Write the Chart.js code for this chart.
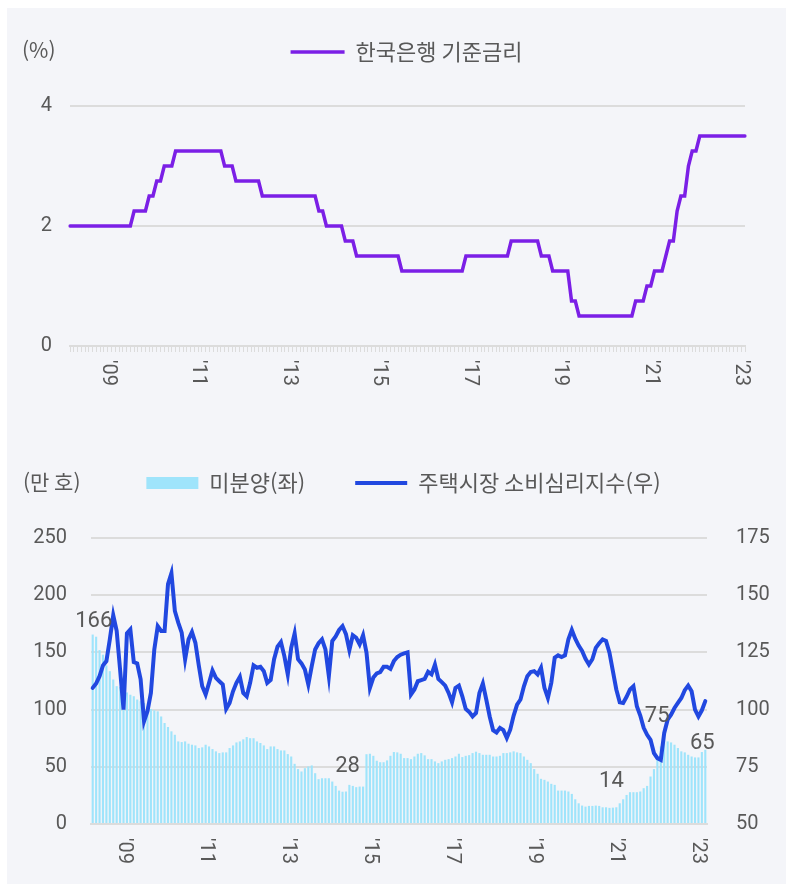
<!DOCTYPE html>
<html lang="ko">
<head>
<meta charset="utf-8">
<title>기준금리 · 미분양 · 주택시장 소비심리지수</title>
<script src="https://cdn.jsdelivr.net/npm/chart.js@4.4.1/dist/chart.umd.min.js"></script>
<style>
  html, body { margin: 0; padding: 0; background: #ffffff; }
  #panel { position: absolute; left: 7px; top: 8px; width: 779px; height: 876px; background: #f4f5f9; }
  canvas { position: absolute; }
  #rateChart { left: 7px; top: 8px; }
  #housingChart { left: 7px; top: 422px; }
</style>
</head>
<body>
<div id="panel"></div>
<canvas id="rateChart" width="779" height="422"></canvas>
<canvas id="housingChart" width="779" height="462"></canvas>
<script>
// month categories
function monthRange(y, m, n) {
  const out = [];
  for (let k = 0; k < n; k++) {
    out.push(y + '.' + String(m).padStart(2, '0'));
    m++;
    if (m > 12) { m = 1; y++; }
  }
  return out;
}
const rateMonths = monthRange(2009, 2, 180);     // 2009.02 ~ 2024.01
const housingMonths = monthRange(2009, 3, 180);  // 2009.03 ~ 2024.02

// tick labels (placed at December of each odd year)
const tickLabels = ["'09", "'11", "'13", "'15", "'17", "'19", "'21", "'23"];
const tickMonths = ['2009.12', '2011.12', '2013.12', '2015.12', '2017.12', '2019.12', '2021.12', '2023.12'];

// 한국은행 기준금리 (%)
const baseRate = [
  2.00, 2.00, 2.00, 2.00, 2.00, 2.00, 2.00, 2.00, 2.00, 2.00, 2.00,
  2.00, 2.00, 2.00, 2.00, 2.00, 2.00, 2.25, 2.25, 2.25, 2.25, 2.50, 2.50,
  2.75, 2.75, 3.00, 3.00, 3.00, 3.25, 3.25, 3.25, 3.25, 3.25, 3.25, 3.25,
  3.25, 3.25, 3.25, 3.25, 3.25, 3.25, 3.00, 3.00, 3.00, 2.75, 2.75, 2.75,
  2.75, 2.75, 2.75, 2.75, 2.50, 2.50, 2.50, 2.50, 2.50, 2.50, 2.50, 2.50,
  2.50, 2.50, 2.50, 2.50, 2.50, 2.50, 2.50, 2.25, 2.25, 2.00, 2.00, 2.00,
  2.00, 2.00, 1.75, 1.75, 1.75, 1.50, 1.50, 1.50, 1.50, 1.50, 1.50, 1.50,
  1.50, 1.50, 1.50, 1.50, 1.50, 1.25, 1.25, 1.25, 1.25, 1.25, 1.25, 1.25,
  1.25, 1.25, 1.25, 1.25, 1.25, 1.25, 1.25, 1.25, 1.25, 1.25, 1.50, 1.50,
  1.50, 1.50, 1.50, 1.50, 1.50, 1.50, 1.50, 1.50, 1.50, 1.50, 1.75, 1.75,
  1.75, 1.75, 1.75, 1.75, 1.75, 1.75, 1.50, 1.50, 1.50, 1.25, 1.25, 1.25,
  1.25, 1.25, 0.75, 0.75, 0.50, 0.50, 0.50, 0.50, 0.50, 0.50, 0.50, 0.50,
  0.50, 0.50, 0.50, 0.50, 0.50, 0.50, 0.50, 0.75, 0.75, 0.75, 1.00, 1.00,
  1.25, 1.25, 1.25, 1.50, 1.75, 1.75, 2.25, 2.50, 2.50, 3.00, 3.25, 3.25,
  3.50, 3.50, 3.50, 3.50, 3.50, 3.50, 3.50, 3.50, 3.50, 3.50, 3.50, 3.50,
  3.50
];

// 미분양 (좌축)
const unsold = [
  165.6, 163.7, 152.0, 148.0, 138.6, 133.6, 126.3, 120.5, 119.9, 116.0,
  115.0, 113.0, 111.7, 108.8, 107.3, 105.8, 103.0, 100.6, 99.4, 98.5,
  94.0, 88.3, 84.8, 81.0, 78.0, 72.2, 71.6, 72.2, 70.2, 69.3,
  68.7, 66.4, 67.0, 69.3, 67.8, 65.5, 63.5, 62.0, 62.6, 62.6,
  66.4, 68.7, 71.3, 72.2, 74.0, 76.0, 75.0, 75.0, 72.2, 70.8,
  68.7, 65.5, 67.8, 67.8, 65.5, 64.3, 64.3, 61.1, 59.0, 52.6,
  48.0, 45.9, 48.8, 50.3, 51.2, 44.4, 39.2, 40.0, 40.0, 40.0,
  37.1, 33.3, 29.2, 28.2, 28.4, 34.2, 33.3, 32.2, 32.7, 32.7,
  61.0, 61.4, 59.6, 55.3, 54.0, 54.0, 55.6, 59.6, 62.9, 62.6,
  61.4, 57.6, 57.6, 56.7, 59.0, 61.4, 62.0, 60.0, 56.7, 56.7,
  54.7, 53.2, 54.7, 56.1, 56.7, 57.6, 59.0, 61.4, 58.5, 59.6,
  60.2, 62.0, 63.2, 62.0, 60.5, 60.5, 60.5, 59.0, 59.0, 59.6,
  62.0, 62.0, 62.6, 63.5, 62.6, 62.0, 59.0, 56.1, 53.2, 48.0,
  43.9, 39.5, 38.6, 37.1, 35.1, 34.2, 29.2, 29.2, 29.2, 28.4,
  26.3, 21.6, 18.1, 16.1, 15.2, 15.8, 15.8, 16.1, 15.8, 14.6,
  14.6, 14.1, 14.3, 14.6, 18.1, 21.6, 25.4, 27.8, 27.8, 27.8,
  28.4, 31.3, 33.3, 41.5, 48.0, 56.1, 67.8, 75.4, 72.2, 71.3,
  69.3, 66.4, 63.5, 62.6, 60.5, 59.0, 58.2, 58.2, 62.9, 64.9
];

// 주택시장 소비심리지수 (우축)
const sentiment = [
  109.5, 111.4, 114.6, 119.3, 121.2, 130.7, 141.2, 134.4, 117.5, 100.0,
  133.3, 135.0, 120.8, 120.2, 113.2, 94.9, 99.3, 107.3, 126.3, 136.5,
  134.4, 134.4, 154.8, 159.6, 143.1, 138.0, 133.6, 121.9, 130.7, 133.9,
  129.2, 119.3, 110.2, 106.6, 111.7, 117.1, 113.9, 112.4, 111.0, 100.3,
  102.9, 108.0, 111.7, 114.3, 107.3, 105.8, 111.7, 119.3, 118.3, 118.7,
  116.8, 111.7, 113.0, 122.0, 127.5, 129.5, 123.4, 115.4, 127.0, 133.3,
  122.0, 120.2, 117.5, 111.0, 119.0, 126.3, 129.0, 130.7, 126.3, 114.6,
  130.0, 132.0, 134.8, 136.5, 133.0, 126.0, 132.5, 131.4, 128.5, 132.5,
  124.9, 109.5, 114.0, 115.8, 116.4, 118.7, 118.7, 117.8, 121.2, 123.0,
  124.0, 124.6, 125.0, 106.6, 108.8, 112.4, 112.9, 113.4, 116.5, 115.4,
  119.7, 113.4, 112.0, 110.5, 107.3, 103.2, 109.5, 110.5, 105.8, 100.3,
  99.0, 97.0, 98.5, 107.3, 111.4, 104.4, 97.0, 91.0, 90.0, 92.0,
  91.0, 87.6, 91.2, 97.4, 102.2, 104.4, 110.2, 114.6, 116.4, 116.8,
  115.4, 118.3, 109.5, 105.1, 111.7, 122.7, 123.7, 123.0, 123.7, 130.7,
  134.8, 131.0, 128.0, 125.6, 122.2, 119.7, 122.0, 127.0, 129.0, 130.7,
  130.0, 124.9, 116.8, 108.8, 103.2, 102.9, 105.6, 108.8, 110.2, 101.5,
  97.4, 92.0, 89.0, 86.8, 81.0, 78.8, 78.0, 89.8, 95.6, 97.8,
  100.7, 102.9, 105.1, 108.5, 110.5, 108.0, 100.0, 97.0, 99.7, 103.7
];

// bars that carry a value label
const labeledBars = [0, 73, 151, 167, 179];
const labelShift = [[1, -2], [5, -14], [2, -15], [-7, -10], [-3, 5]];

const textColor = '#595959';
const gridColor = '#dcdcdc';
const numFont = { family: 'Roboto, "Noto Sans CJK KR", sans-serif', size: 20 };
const korFont = { family: '"Noto Sans CJK KR", Roboto, sans-serif', size: 22 };

Chart.defaults.font.family = 'Roboto, "Noto Sans CJK KR", sans-serif';
Chart.defaults.color = textColor;

// stretch legend box so the plot starts lower
const legendSpace = {
  id: 'legendSpace',
  beforeLayout(chart, args, opts) {
    const lg = chart.legend;
    if (!lg || lg._spaced) return;
    const fit = lg.fit;
    lg.fit = function () { fit.call(this); this.height = opts.height; };
    lg._spaced = true;
  }
};

// unit text at the top left
const unitLabel = {
  id: 'unitLabel',
  afterDraw(chart, args, opts) {
    const ctx = chart.ctx;
    ctx.save();
    ctx.font = '21px "Noto Sans CJK KR", Roboto, sans-serif';
    ctx.fillStyle = textColor;
    ctx.textAlign = 'left';
    ctx.textBaseline = 'middle';
    ctx.fillText(opts.text, opts.x, opts.y);
    ctx.restore();
  }
};

// rotated year labels under the x axis
const yearLabels = {
  id: 'yearLabels',
  afterDraw(chart, args, opts) {
    const { ctx, chartArea } = chart;
    const x = chart.scales.x;
    ctx.save();
    ctx.font = '20px Roboto, sans-serif';
    ctx.fillStyle = textColor;
    ctx.textAlign = 'left';
    ctx.textBaseline = 'middle';
    tickMonths.forEach((m, k) => {
      const px = x.getPixelForValue(chart.data.labels.indexOf(m));
      ctx.save();
      ctx.translate(px, chartArea.bottom + opts.gap);
      ctx.rotate(Math.PI / 2);
      ctx.fillText(tickLabels[k], 0, 0);
      ctx.restore();
    });
    ctx.restore();
  }
};

// value labels on selected bars
const barValues = {
  id: 'barValues',
  afterDatasetsDraw(chart) {
    const ctx = chart.ctx;
    const meta = chart.getDatasetMeta(0);
    ctx.save();
    ctx.font = '22px Roboto, sans-serif';
    ctx.fillStyle = textColor;
    ctx.textAlign = 'center';
    ctx.textBaseline = 'bottom';
    labeledBars.forEach((i, k) => {
      const bar = meta.data[i];
      ctx.fillText(String(Math.round(unsold[i])), bar.x + labelShift[k][0], bar.y + labelShift[k][1]);
    });
    ctx.restore();
  }
};

function legendItems(chart) {
  const items = Chart.defaults.plugins.legend.labels.generateLabels(chart);
  items.forEach(it => { it.pointStyle = chart.data.datasets[it.datasetIndex].pointStyle; });
  return items;
}

// top: 기준금리
new Chart(document.getElementById('rateChart'), {
  type: 'line',
  data: {
    labels: rateMonths,
    datasets: [{
      label: '한국은행 기준금리',
      data: baseRate,
      borderColor: '#7b1fe6',
      backgroundColor: '#7b1fe6',
      borderWidth: 3.5,
      borderCapStyle: 'round',
      pointRadius: 0,
      pointStyle: 'line',
      tension: 0
    }]
  },
  options: {
    responsive: false,
    animation: false,
    layout: { padding: { left: 20, right: 0, top: 23, bottom: 0 } },
    plugins: {
      legend: {
        labels: {
          usePointStyle: true, pointStyleWidth: 54, boxHeight: 12, padding: 10,
          color: textColor, font: korFont, generateLabels: legendItems
        }
      },
      tooltip: { enabled: false },
      legendSpace: { height: 75 },
      unitLabel: { text: '(%)', x: 15, y: 42 },
      yearLabels: { gap: 14 }
    },
    scales: {
      x: {
        grid: { drawOnChartArea: false, drawTicks: true, tickLength: 6, tickColor: gridColor, tickWidth: 1 },
        border: { color: gridColor, width: 2 },
        ticks: { display: false, autoSkip: false },
        afterFit(s) { s.height = 84; }
      },
      y: {
        min: 0, max: 4,
        ticks: { stepSize: 2, padding: 18, font: numFont, color: textColor },
        grid: { color: gridColor, lineWidth: 2, drawTicks: false },
        border: { display: false },
        afterFit(s) { s.width = 43; }
      },
      // empty right margin, keeps the legend centred like the original
      yRight: {
        position: 'right',
        ticks: { display: false },
        grid: { display: false },
        border: { display: false },
        afterFit(s) { s.width = 41; }
      }
    }
  },
  plugins: [legendSpace, unitLabel, yearLabels]
});

// bottom: 미분양 + 소비심리지수
new Chart(document.getElementById('housingChart'), {
  type: 'bar',
  data: {
    labels: housingMonths,
    datasets: [{
      type: 'bar',
      label: '미분양(좌)',
      data: unsold,
      backgroundColor: '#9fe4fb',
      borderWidth: 0,
      barPercentage: 0.62,
      categoryPercentage: 1,
      pointStyle: 'rect',
      yAxisID: 'y',
      order: 2
    }, {
      type: 'line',
      label: '주택시장 소비심리지수(우)',
      data: sentiment,
      borderColor: '#2148e0',
      backgroundColor: '#2148e0',
      borderWidth: 4,
      borderCapStyle: 'round',
      pointRadius: 0,
      pointStyle: 'line',
      tension: 0,
      yAxisID: 'y1',
      order: 1
    }]
  },
  options: {
    responsive: false,
    animation: false,
    layout: { padding: { left: 14, right: 0, top: 0, bottom: 0 } },
    plugins: {
      legend: {
        labels: {
          usePointStyle: true, pointStyleWidth: 52, boxHeight: 12, padding: 50,
          color: textColor, font: korFont, generateLabels: legendItems,
          sort: (a, b) => a.datasetIndex - b.datasetIndex
        }
      },
      tooltip: { enabled: false },
      legendSpace: { height: 116 },
      unitLabel: { text: '(만 호)', x: 16, y: 60 },
      yearLabels: { gap: 14 }
    },
    scales: {
      x: {
        offset: true,
        grid: { drawOnChartArea: false, drawTicks: false },
        border: { color: gridColor, width: 2 },
        ticks: { display: false, autoSkip: false },
        afterFit(s) { s.height = 60; }
      },
      y: {
        position: 'left',
        min: 0, max: 250,
        ticks: { stepSize: 50, padding: 24, font: numFont, color: textColor },
        grid: { color: gridColor, lineWidth: 2, drawTicks: false },
        border: { display: false },
        afterFit(s) { s.width = 70; }
      },
      y1: {
        position: 'right',
        min: 50, max: 175,
        ticks: { stepSize: 25, padding: 21, font: numFont, color: textColor },
        grid: { display: false },
        border: { display: false },
        afterFit(s) { s.width = 79; }
      }
    }
  },
  plugins: [legendSpace, unitLabel, yearLabels, barValues]
});
</script>
</body>
</html>
